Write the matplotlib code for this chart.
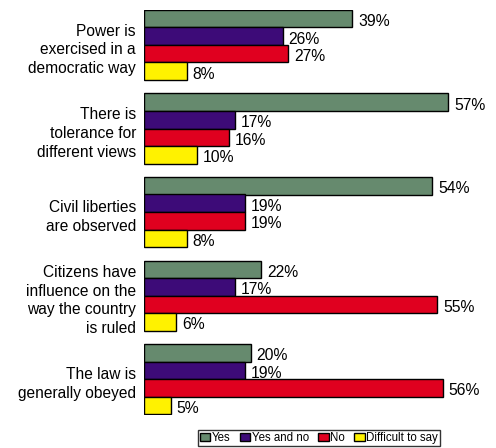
import numpy as np
import matplotlib

matplotlib.rcParams["font.family"] = ["Liberation Sans", "DejaVu Sans"]

import matplotlib.pyplot as plt
from matplotlib.patches import Patch

statements = [
    "Power is\nexercised in a\ndemocratic way",
    "There is\ntolerance for\ndifferent views",
    "Civil liberties\nare observed",
    "Citizens have\ninfluence on the\nway the country\nis ruled",
    "The law is\ngenerally obeyed",
]
answers = ["Yes", "Yes and no", "No", "Difficult to say"]
yes = [39, 57, 54, 22, 20]
yes_and_no = [26, 17, 19, 17, 19]
no = [27, 16, 19, 55, 56]
difficult = [8, 10, 8, 6, 5]

COLORS = ["#668A6E", "#3D0B78", "#E0001F", "#FFF200"]

fig = plt.figure(figsize=(4.96, 4.48), dpi=100)
ax = fig.add_axes([144 / 496, 1 - 415 / 448, 320 / 496, 405 / 448])

group_pitch = 83.5
bar_h = 17.5
series = [yes, yes_and_no, no, difficult]

for j, (vals, color) in enumerate(zip(series, COLORS)):
    ys = np.arange(len(statements)) * group_pitch + j * bar_h + bar_h / 2
    ax.barh(ys, vals, height=bar_h, color=color, edgecolor="black", linewidth=1.0)
    for y, v in zip(ys, vals):
        ax.text(v + 1.1, y + 3, f"{v}%", va="center", ha="left", fontsize=11.3, color="black")

for i, label in enumerate(statements):
    yc = i * group_pitch + 2 * bar_h + 5
    ax.text(-1.5, yc, label, ha="right", va="center", fontsize=11.2, linespacing=1.3)

ax.set_xlim(0, 60)
ax.set_ylim(405, 0)
ax.axis("off")

handles = [Patch(facecolor=c, edgecolor="black", linewidth=1.0) for c in COLORS]
leg = fig.legend(handles, answers, loc="center", bbox_to_anchor=(319 / 496, 1 - 438 / 448),
                 ncol=4, fontsize=8.3, frameon=True, fancybox=False, handlelength=0.9,
                 handleheight=0.8, handletextpad=0.15, columnspacing=0.8, borderpad=0.2,
                 borderaxespad=0)
leg.get_frame().set_edgecolor("black")
leg.get_frame().set_linewidth(1.0)

fig.savefig("out.png", dpi=100)
